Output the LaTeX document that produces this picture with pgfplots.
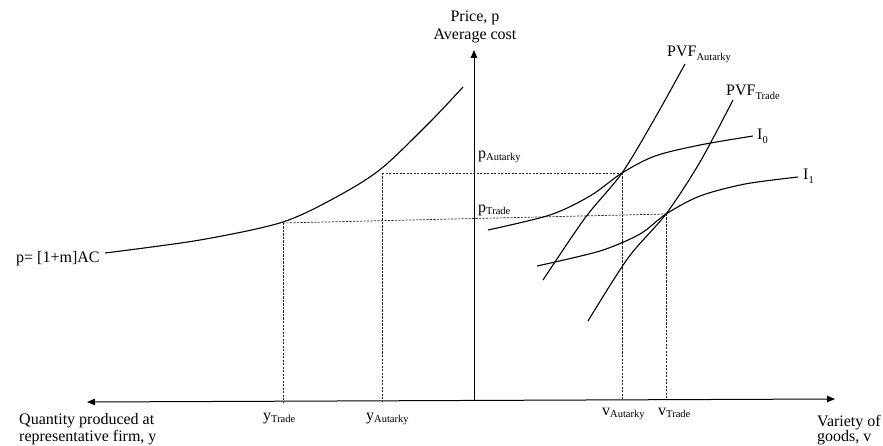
\documentclass[border=0pt]{standalone}
\usepackage{fontspec}
\setmainfont{Liberation Serif}
\usepackage{pgfplots}
\pgfplotsset{compat=1.18}
\usetikzlibrary{arrows.meta}
\newcommand\sub[1]{\raisebox{-2pt}{\fontsize{10.5}{12}\selectfont #1}}
\newcommand\subb[1]{\raisebox{-3.5pt}{\fontsize{10.5}{12}\selectfont #1}}
\begin{document}
\fontsize{16}{18}\selectfont
\begin{tikzpicture}[every node/.style={inner sep=0pt}]
\begin{axis}[name=ax,width=883pt,height=446pt,scale only axis,
  xmin=0,xmax=883,ymin=0,ymax=446,y dir=reverse,hide axis,clip=false]
\addplot[draw=none,forget plot] coordinates {(0,0) (883,446)};
% axes
\addplot[line width=1pt,-{Triangle[length=8pt,width=6.5pt]}] coordinates {(474,400) (474,50)};
\addplot[line width=1pt,{Triangle[length=8pt,width=6.5pt]}-{Triangle[length=8pt,width=6.5pt]}] coordinates {(87,402) (835,399)};
% dashed guides
\pgfplotsset{dash/.style={line width=0.7pt,dash pattern=on 2.2pt off 1.3pt,black!85}}
\addplot[dash] coordinates {(382,173) (622,173)};
\addplot[dash] coordinates {(283,223) (666,214)};
\addplot[dash] coordinates {(283,223) (283,402)};
\addplot[dash] coordinates {(382,173) (382,401)};
\addplot[dash] coordinates {(622,173) (622,400)};
\addplot[dash] coordinates {(666,214) (666,399)};
% AC curve
\addplot[line width=1.1pt,smooth] coordinates {(105,253) (200,240) (283,222) (340,195) (382,168) (430,122) (463,87)};
% PVF autarky
\addplot[line width=1.1pt,smooth] coordinates {(543,280) (585,218) (622,173) (655,118) (685,64)};
% PVF trade
\addplot[line width=1.1pt,smooth] coordinates {(588,321) (628,258) (666,214) (700,162) (733,100)};
% I0
\addplot[line width=1.1pt,smooth] coordinates {(488,230) (550,215) (590,196) (622,173) (655,156) (700,145) (753,136)};
% I1
\addplot[line width=1.1pt,smooth] coordinates {(537,266) (600,251) (640,234) (666,214) (700,196) (745,184) (798,177)};
% labels
\node[anchor=base] at (axis cs:475,22) {Price, p};
\node[anchor=base] at (axis cs:475,40) {Average cost};
\node[anchor=base west] at (axis cs:16,263) {p= [1+m]AC};
\node[anchor=base west] at (axis cs:19,424) {Quantity produced at};
\node[anchor=base west] at (axis cs:19,441) {representative firm, y};
\node[anchor=base west] at (axis cs:817,426) {Variety of};
\node[anchor=base west] at (axis cs:817,441) {goods, v};
\node[anchor=base west] at (axis cs:263,420) {y\sub{Trade}};
\node[anchor=base west] at (axis cs:366,420) {y\sub{Autarky}};
\node[anchor=base west] at (axis cs:602,415) {v\sub{Autarky}};
\node[anchor=base west] at (axis cs:658,415) {v\sub{Trade}};
\node[anchor=base west] at (axis cs:478,159) {p\sub{Autarky}};
\node[anchor=base west] at (axis cs:478,213) {p\sub{Trade}};
\node[anchor=base west] at (axis cs:667,57) {PVF\subb{Autarky}};
\node[anchor=base west] at (axis cs:726,96) {PVF\subb{Trade}};
\node[anchor=base west] at (axis cs:757,140) {I\subb{0}};
\node[anchor=base west] at (axis cs:803,180) {I\subb{1}};
\end{axis}
\pgfresetboundingbox
\path (ax.south west) rectangle (ax.north east);
\end{tikzpicture}
\end{document}
